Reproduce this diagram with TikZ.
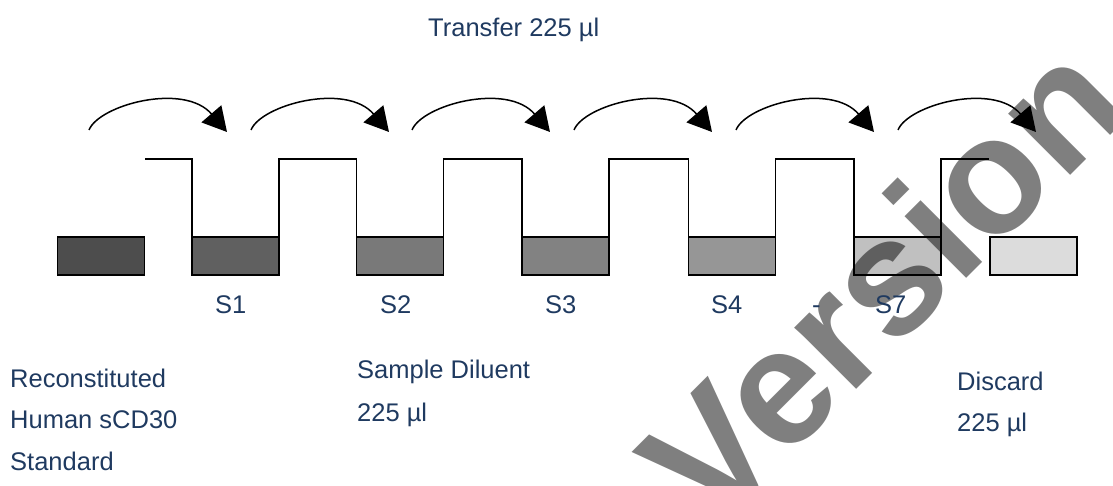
\documentclass[tikz,border=0pt]{standalone}
\usepackage{fontspec}
\setmainfont{Liberation Sans}
\usetikzlibrary{arrows.meta}
\definecolor{txt}{HTML}{1F3A60}
\begin{document}
\begin{tikzpicture}[x=1pt,y=-1pt,
  box/.style={draw=black, line width=1.5pt, minimum width=87pt, minimum height=38pt, inner sep=0pt, outer sep=0pt},
  wave/.style={line width=1.5pt, line join=miter},
  curvearrow/.style={line width=1.5pt, -{Triangle[length=24pt,width=26pt]}},
  lbl/.style={text=txt, font=\fontsize{25.5}{30}\selectfont, anchor=base west, inner sep=0pt},
  wm/.style={font=\fontsize{165}{165}\selectfont\bfseries, text=black, text opacity=0.5, rotate=45, inner sep=0pt}]
\useasboundingbox (0,0) rectangle (1113,486);
% boxes
\node[box, fill={rgb,255:red,77;green,77;blue,77}] (b0) at (101,256) {};
\node[box, fill={rgb,255:red,96;green,96;blue,96}] (b1) at (235.5,256) {};
\node[box, fill={rgb,255:red,121;green,121;blue,121}] (b2) at (400,256) {};
\node[box, fill={rgb,255:red,130;green,130;blue,130}] (b3) at (565.5,256) {};
\node[box, fill={rgb,255:red,150;green,150;blue,150}] (b4) at (732,256) {};
\node[box, fill={rgb,255:red,192;green,192;blue,192}] (b5) at (897.5,256) {};
\node[box, fill={rgb,255:red,220;green,220;blue,220}] (b6) at (1033.5,256) {};
% wave
\coordinate (w0) at (145,159);
\coordinate (w6) at (989,159);
\draw[wave] (w0) -- (b1.north west |- w0) -- (b1.north west);
\foreach \i/\j in {1/2,2/3,3/4,4/5}{
  \draw[wave] (b\i.north east) -- (b\i.north east |- w0) -- (b\j.north west |- w0) -- (b\j.north west);
}
\draw[wave] (b5.north east) -- (b5.north east |- w0) -- (w6);
% arrows
\foreach \k/\x in {1/89,2/251,3/412,4/574,5/736,6/898}{
  \coordinate (as\k) at (\x,130);
  \coordinate (ae\k) at (\x+138,132);
  \draw[curvearrow] (as\k) .. controls ([shift={(10,-25)}]as\k) and ([shift={(-43,-50)}]ae\k) .. (ae\k);
}
% watermark
\node[wm] (wmk) at (881,281) {Version};
% labels
\node[lbl] (ttl) at (428,37) {Transfer 225 µl};
\node[lbl] (s1) at (215,313) {S1};
\node[lbl] (s2) at (380,313) {S2};
\node[lbl] (s3) at (545,313) {S3};
\node[lbl] (s4) at (711,313) {S4};
\node[lbl] (dash) at (812,313) {-};
\node[lbl] (s7) at (875,313) {S7};
\node[lbl] (r1) at (10,387) {Reconstituted};
\node[lbl] (r2) at (10,428) {Human sCD30};
\node[lbl] (r3) at (10,470) {Standard};
\node[lbl] (d1) at (357,378) {Sample Diluent};
\node[lbl] (d2) at (357,421) {225 µl};
\node[lbl] (x1) at (957,390) {Discard};
\node[lbl] (x2) at (957,431) {225 µl};
\end{tikzpicture}
\end{document}
